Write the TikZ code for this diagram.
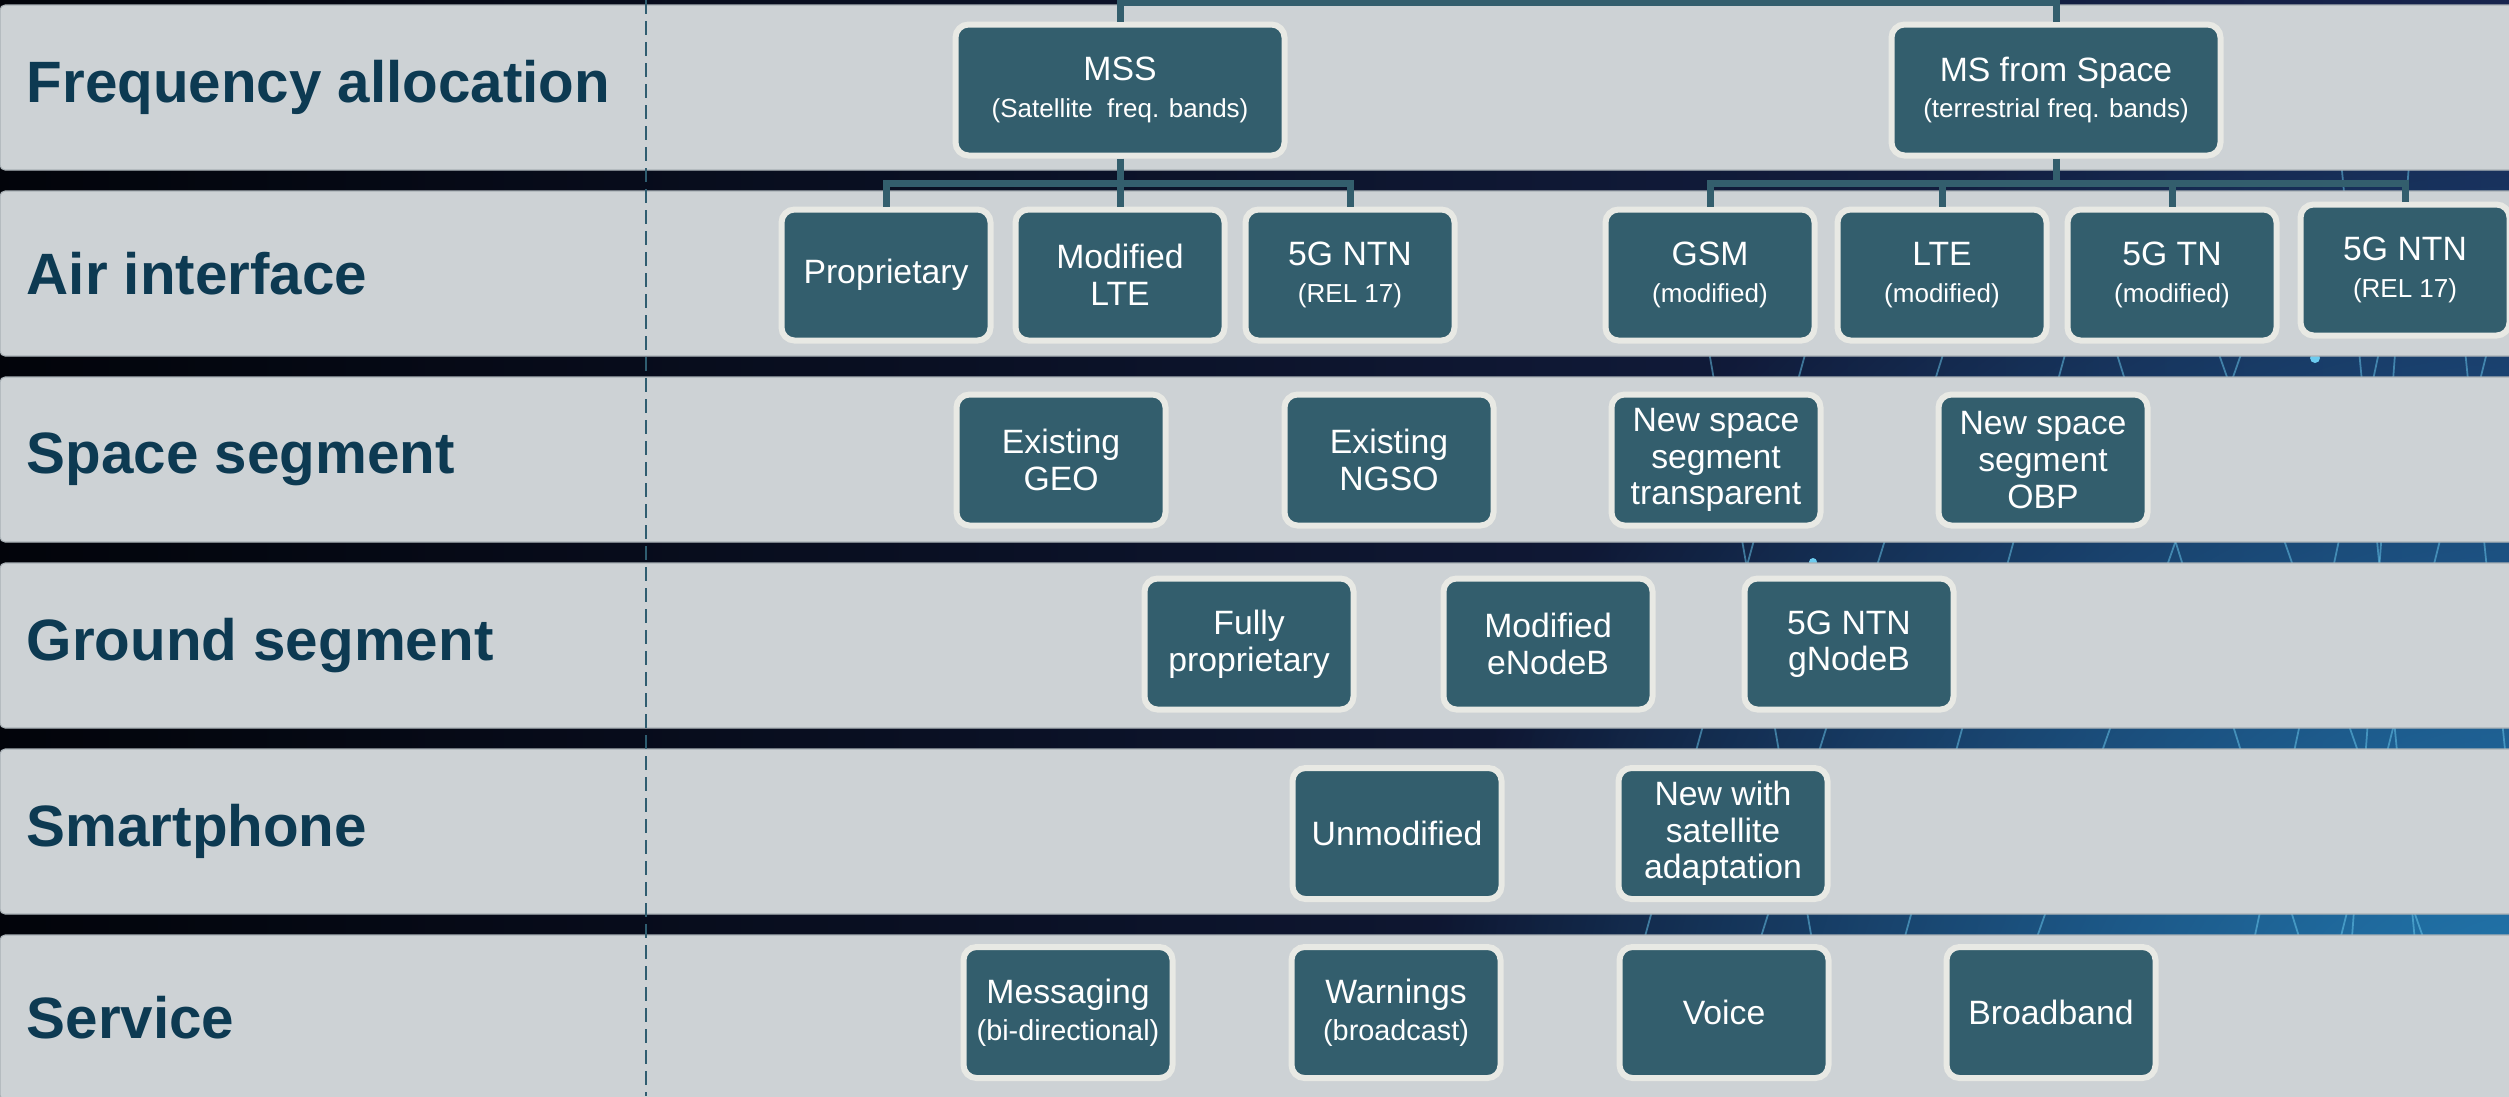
\documentclass[tikz,border=0pt]{standalone}
\usepackage{fontspec}
\setmainfont{Liberation Sans}
\usetikzlibrary{positioning, calc, fadings}

\definecolor{rowgray}{HTML}{CDD2D5}
\definecolor{rowedge}{HTML}{A9B1B6}
\definecolor{boxteal}{HTML}{335E6D}
\definecolor{rimlight}{HTML}{E8E9E4}
\definecolor{labelnavy}{HTML}{0D3A52}
\definecolor{dashteal}{HTML}{2F5D70}
\definecolor{bgblack}{HTML}{02040A}
\definecolor{bgmid}{HTML}{0F1736}
\definecolor{bgnavy}{HTML}{17244E}
\definecolor{bgglow}{HTML}{2384BC}
\definecolor{netcyan}{HTML}{6CCBEF}

\tikzfading[name=glowfade, inner color=transparent!0, outer color=transparent!100]

\newcommand{\bandnote}[1]{{\fontsize{7.4}{8}\selectfont #1}}
\newcommand{\svcnote}[1]{{\fontsize{8.2}{9}\selectfont #1}}

\begin{document}
\begin{tikzpicture}[
    rowband/.style={fill=rowgray, draw=rowedge, line width=0.3pt, rounded corners=0.05cm},
    rowlabel/.style={anchor=west, inner sep=0pt, text=labelnavy, font=\fontsize{16.6}{19}\selectfont\bfseries},
    optbox/.style={draw=rimlight, line width=0.06cm, fill=boxteal, rounded corners=0.13cm,
        text=white, minimum width=2.09cm, minimum height=1.31cm, align=center,
        inner sep=1pt, font=\fontsize{9.6}{10.4}\selectfont},
    bandbox/.style={optbox, minimum width=3.29cm},
    conn/.style={draw=boxteal, line width=0.07cm},
    netline/.style={draw=netcyan, line width=0.5pt, opacity=0.5},
    dashline/.style={draw=dashteal, line width=0.6pt, dash pattern=on 0.14cm off 0.07cm}
]

\useasboundingbox (0,0) rectangle (25.09,-10.96);
\clip (0,0) rectangle (25.09,-10.96);

% Background
\shade[left color=bgblack, middle color=bgmid, right color=bgnavy] (-0.1,0.1) rectangle (25.2,-11.1);
\fill[bgglow, path fading=glowfade] (25.6,-11.6) circle (11.5);
\foreach \a/\b/\c in {-1.5/23.4/24.3, -1.5/24.1/23.4, -3.0/18.2/16.0, -3.0/19.6/17.1,
    -3.0/20.8/18.6, -3.0/22.6/19.8, -3.0/21.0/23.5, -3.0/23.9/22.2, -3.0/24.6/25.4,
    -3.0/17.0/18.4, -3.0/22.0/24.8, -3.0/25.0/23.0}
    \draw[netline] (\b,\a) -- (\c,-11);
\fill[netcyan] (23.15,-3.58) circle (0.05);
\fill[netcyan] (18.13,-5.62) circle (0.04);

% Rows and their labels
\foreach \txt [count=\i from 0] in {Frequency allocation, Air interface, Space segment,
    Ground segment, Smartphone, Service} {
    \path[rowband] (0,{-0.05-1.86*\i}) rectangle (25.4,{-1.70-1.86*\i});
    \node[rowlabel] (lab\i) at (0.26,{-0.875-1.86*\i}) {\txt};
}

% Frequency allocation
\node[bandbox] (mss) at (11.20,-0.90) {MSS\\\bandnote{(Satellite\ \ freq. bands)}};
\node[bandbox] (msspace) at (20.56,-0.90) {MS from Space\\\bandnote{(terrestrial freq. bands)}};

% Air interface
\node[optbox] (prop) at (8.86,-2.75) {Proprietary};
\node[optbox] (modlte) at (11.20,-2.75) {Modified\\LTE};
\node[optbox] (ntnA) at (13.50,-2.75) {5G NTN\\\bandnote{(REL 17)}};
\node[optbox] (gsm) at (17.10,-2.75) {GSM\\\bandnote{(modified)}};
\node[optbox] (lte) at (19.42,-2.75) {LTE\\\bandnote{(modified)}};
\node[optbox] (tn) at (21.72,-2.75) {5G TN\\\bandnote{(modified)}};
\node[optbox] (ntnB) at (24.05,-2.70) {5G NTN\\\bandnote{(REL 17)}};

% Space segment
\node[optbox] (geo) at (10.61,-4.60) {Existing\\GEO};
\node[optbox] (ngso) at (13.89,-4.60) {Existing\\NGSO};
\node[optbox] (transp) at (17.16,-4.60) {New space\\segment\\transparent};
\node[optbox] (obp) at (20.43,-4.60) {New space\\segment\\OBP};

% Ground segment
\node[optbox] (fullprop) at (12.49,-6.44) {Fully\\proprietary};
\node[optbox] (enodeb) at (15.48,-6.44) {Modified\\eNodeB};
\node[optbox] (gnodeb) at (18.49,-6.44) {5G NTN\\gNodeB};

% Smartphone
\node[optbox] (unmod) at (13.97,-8.335) {Unmodified};
\node[optbox] (newsat) at (17.23,-8.335) {New with\\satellite\\adaptation};

% Service
\node[optbox] (msg) at (10.68,-10.125) {Messaging\\\svcnote{(bi-directional)}};
\node[optbox] (warn) at (13.96,-10.125) {Warnings\\\svcnote{(broadcast)}};
\node[optbox] (voice) at (17.24,-10.125) {Voice};
\node[optbox] (bband) at (20.51,-10.125) {Broadband};

% Connectors
\coordinate (topbus) at (0,-0.02);
\coordinate (mssbus) at (11.20,-1.83);
\coordinate (msbus) at (20.56,-1.83);
\draw[conn] (mss.north) -- (mss.north |- topbus) -| (msspace.north);
\draw[conn] (mss.south) -- (modlte.north);
\draw[conn] (prop.north) |- (mssbus) -| (ntnA.north);
\draw[conn] (msspace.south) -- (msbus);
\draw[conn] (gsm.north) |- (msbus) -| (ntnB.north);
\draw[conn] (lte.north) -- (lte.north |- msbus);
\draw[conn] (tn.north) -- (tn.north |- msbus);

% Divider
\draw[dashline] (6.46,0) -- (6.46,-10.96);

\end{tikzpicture}
\end{document}
